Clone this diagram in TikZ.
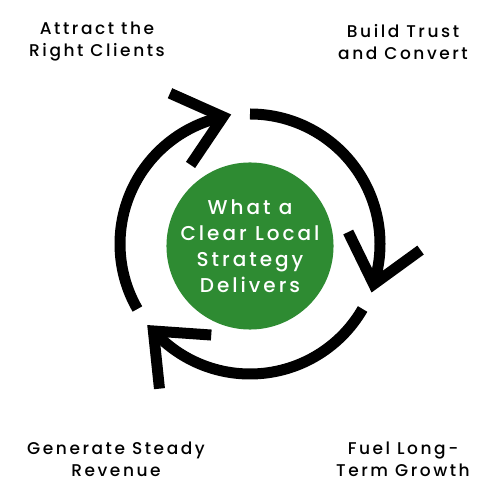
\documentclass[tikz,border=0pt]{standalone}
\usepackage{fontspec}
\setmainfont{Poppins}[UprightFont=* Medium, LetterSpace=15]
\usetikzlibrary{calc}
\definecolor{stratgreen}{RGB}{46,139,50}
\tikzset{
  corner text/.style={align=center, font=\fontsize{17}{22}\selectfont},
  cycle arc/.style={line width=11pt, line join=miter},
}
\begin{document}
\begin{tikzpicture}[x=1pt, y=1pt]
  \useasboundingbox (0,0) rectangle (500,500);
  \coordinate (c) at (250,256);
  \node[circle, fill=stratgreen, minimum size=162pt, inner sep=0pt, text=white,
        align=center, font=\fontsize{20}{26}\selectfont] (hub) at (250,254)
        {What a\\Clear Local\\Strategy\\Delivers};
  % three arcs, each ending in an open head
  \foreach \k in {0,1,2} {
    \pgfmathsetmacro{\st}{90-120*\k}
    \pgfmathsetmacro{\en}{-18-120*\k}
    \coordinate (tail\k) at ($(c)+(\st:130)$);
    \coordinate (tip\k) at ($(c)+(\en:130)$);
    \draw[cycle arc] (tail\k) arc[start angle=\st, end angle=\en, radius=130];
    \draw[cycle arc] ($(tip\k)+(\en+134:58)$) -- (tip\k) -- ($(tip\k)+(\en+54:58)$);
  }
  \node[corner text] (attract) at (97,458) {Attract the\\Right Clients};
  \node[corner text] (trust) at (403,458) {Build Trust\\and Convert};
  \node[corner text] (revenue) at (116,41) {Generate Steady\\Revenue};
  \node[corner text] (growth) at (403,41) {Fuel Long-\\Term Growth};
\end{tikzpicture}
\end{document}
